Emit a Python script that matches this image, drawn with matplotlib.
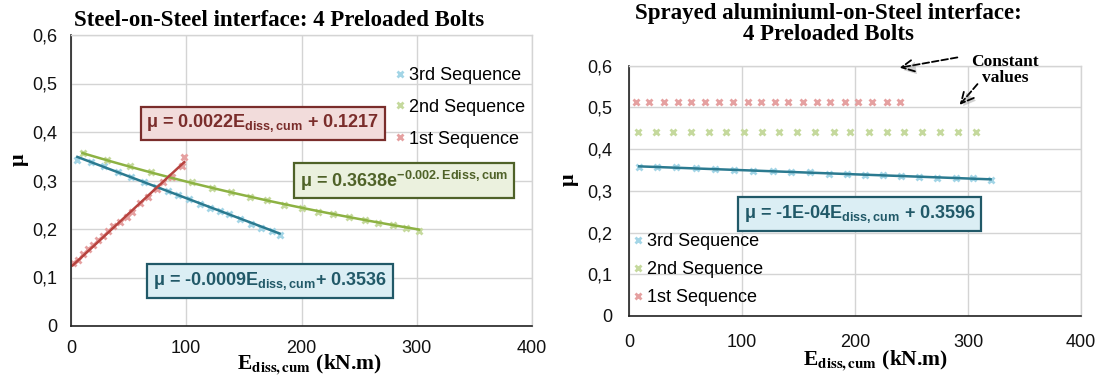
import matplotlib
matplotlib.use('Agg')
import matplotlib.pyplot as plt
import matplotlib.patheffects as pe
from matplotlib.ticker import FixedLocator, FixedFormatter

plt.rcParams['mathtext.fontset'] = 'custom'
plt.rcParams['mathtext.rm'] = 'Liberation Sans'
plt.rcParams['mathtext.bf'] = 'Liberation Sans:bold'

# steel-on-steel, cumulative dissipated energy vs friction coefficient
s3_x = [5.5, 17, 29, 41, 52, 63, 74, 84, 93, 102, 112, 121, 129, 137, 147, 156, 165, 174, 181]
s3_y = [0.343, 0.338, 0.329, 0.318, 0.308, 0.297, 0.287, 0.278, 0.270, 0.261, 0.252, 0.244,
        0.237, 0.230, 0.220, 0.211, 0.203, 0.195, 0.187]
s2_x = [10, 31, 51, 69, 87, 105, 122, 139, 155, 170, 185, 200, 214, 227, 241, 255, 266, 279, 291, 302]
s2_y = [0.357, 0.343, 0.329, 0.318, 0.307, 0.296, 0.284, 0.276, 0.266, 0.259, 0.250, 0.243,
        0.236, 0.230, 0.224, 0.218, 0.213, 0.208, 0.202, 0.196]
s1_x = [1.5, 6.4, 10.7, 15.0, 19.4, 23.7, 28.1, 32.4, 36.7, 42.5, 48.3, 52.7, 59.9, 67.1,
        74.4, 80.1, 87.4, 96.1, 98.3]
s1_y = [0.129, 0.137, 0.148, 0.158, 0.167, 0.177, 0.186, 0.196, 0.206, 0.215, 0.225, 0.236,
        0.253, 0.267, 0.282, 0.296, 0.307, 0.330, 0.348]

# sprayed aluminium-on-steel
a3_x = [9, 25, 42, 59, 76, 93, 110, 127, 143, 160, 177, 193, 209, 225, 241, 257, 273, 289, 304, 320]
a3_y = [0.358, 0.356, 0.356, 0.355, 0.352, 0.350, 0.348, 0.347, 0.344, 0.344, 0.341, 0.341,
        0.339, 0.337, 0.335, 0.334, 0.332, 0.332, 0.330, 0.327]
a2_x = [8, 24, 39, 55, 71, 86, 102, 118, 133, 149, 165, 181, 196, 212, 228, 243, 259, 275, 291, 307]
a2_y = [0.44] * 20
a1_x = [6, 18, 31, 43, 55, 67, 80, 92, 105, 117, 129, 141, 154, 166, 178, 191, 203, 215, 228, 240]
a1_y = [0.514] * 20

# trend line coefficients
lin1 = (0.0022, 0.1217)
exp2 = (0.3638, -0.002)
lin3 = (-0.0009, 0.3536)
alin3 = (-1e-4, 0.3596)

series_names = ['3rd Sequence', '2nd Sequence', '1st Sequence']
yticks = [0, 0.1, 0.2, 0.3, 0.4, 0.5, 0.6]
ytick_labels = ['0', '0,1', '0,2', '0,3', '0,4', '0,5', '0,6']
xticks = [0, 100, 200, 300, 400]
xtick_labels = ['0', '100', '200', '300', '400']

c_mark = {'3': '#a3d5e6', '2': '#c5d99d', '1': '#e5a0a0'}
c_line = {'3': '#2b7a90', '2': '#8db243', '1': '#b7433f'}

fig = plt.figure(figsize=(11.06, 3.78), dpi=100)
W, H = 1106.0, 378.0


def setup(ax, ypad, xpad):
    ax.set_xlim(0, 400)
    ax.set_ylim(0, 0.6)
    ax.xaxis.set_major_locator(FixedLocator(xticks))
    ax.xaxis.set_major_formatter(FixedFormatter(xtick_labels))
    ax.yaxis.set_major_locator(FixedLocator(yticks))
    ax.yaxis.set_major_formatter(FixedFormatter(ytick_labels))
    ax.grid(True, color='#d4d4d4', lw=1.0)
    ax.set_axisbelow(True)
    for s in ['top', 'right']:
        ax.spines[s].set_color('#d4d4d4')
        ax.spines[s].set_linewidth(1.0)
    for s in ['left', 'bottom']:
        ax.spines[s].set_color('#222222')
        ax.spines[s].set_linewidth(1.2)
    ax.tick_params(axis='both', length=0, labelsize=13, labelcolor='#111111')
    ax.tick_params(axis='y', pad=ypad)
    ax.tick_params(axis='x', pad=xpad)
    for lab in ax.get_xticklabels() + ax.get_yticklabels():
        lab.set_family('Liberation Sans')


def markers(ax, x, y, key, label):
    ax.plot(x, y, ls='none', marker='x', ms=4.5, mew=2.0, color=c_mark[key], label=label)


def eq_box(ax, x, y, text, fc, ec):
    ax.text(x, y, text, ha='center', va='center', fontsize=13, fontweight='bold',
            family='Liberation Sans', color=ec, math_fontfamily='custom',
            bbox=dict(boxstyle='square,pad=0.32', fc=fc, ec=ec, lw=1.6))


# ---- left: steel on steel
ax1 = fig.add_axes([71 / W, (H - 326) / H, 461 / W, 291 / H])
setup(ax1, 10, 10)
markers(ax1, s3_x, s3_y, '3', series_names[0])
markers(ax1, s2_x, s2_y, '2', series_names[1])
markers(ax1, s1_x, s1_y, '1', series_names[2])

ax1.plot([s3_x[0], s3_x[-1]], [lin3[0] * s3_x[0] + lin3[1], lin3[0] * s3_x[-1] + lin3[1]],
         color=c_line['3'], lw=1.8)
ex = [s2_x[0] + i * (s2_x[-1] - s2_x[0]) / 60.0 for i in range(61)]
ax1.plot(ex, [exp2[0] * 2.718281828 ** (exp2[1] * v) for v in ex], color=c_line['2'], lw=1.8)
ax1.plot([s1_x[0], s1_x[-1]], [lin1[0] * s1_x[0] + lin1[1], lin1[0] * s1_x[-1] + lin1[1]],
         color=c_line['1'], lw=1.8)

eq_box(ax1, 166.6, 0.4175, r'μ = 0.0022E$_{\mathbf{diss,cum}}$ + 0.1217', '#f2dcdb', '#7a2d2b')
eq_box(ax1, 289, 0.300, r'μ = 0.3638e$^{\mathbf{-0.002.Ediss,cum}}$', '#ebf1de', '#4f6228')
eq_box(ax1, 172.7, 0.0928, r'μ = -0.0009E$_{\mathbf{diss,cum}}$+ 0.3536', '#dbeef4', '#215968')

leg1 = ax1.legend(loc='upper left', bbox_to_anchor=((395 - 71) / 461, (326 - 67) / 291),
                  frameon=False, handlelength=0.5, handletextpad=0.3,
                  borderpad=0, borderaxespad=0, labelspacing=0.82, numpoints=1,
                  prop={'family': 'Liberation Sans', 'size': 13})

fig.text(279 / W, 1 - 20 / H, 'Steel-on-Steel interface: 4 Preloaded Bolts', ha='center',
         va='center', fontsize=16.5, fontweight='bold', family='Liberation Serif')
fig.text(19 / W, 1 - 160 / H, 'μ', rotation=90, ha='center', va='center', fontsize=16,
         fontweight='bold', family='Liberation Serif')
fig.text(310 / W, 1 - 364 / H, r'E$_{\mathbf{diss,cum}}$ (kN.m)', ha='center', va='center',
         fontsize=15.5, fontweight='bold', family='Liberation Serif', math_fontfamily='stix')

# ---- right: sprayed aluminium on steel
ax2 = fig.add_axes([629 / W, (H - 316) / H, 452 / W, 250.3 / H])
setup(ax2, 12, 13)
markers(ax2, a3_x, a3_y, '3', series_names[0])
markers(ax2, a2_x, a2_y, '2', series_names[1])
markers(ax2, a1_x, a1_y, '1', series_names[2])
ax2.plot([a3_x[0], a3_x[-1]], [alin3[0] * a3_x[0] + alin3[1], alin3[0] * a3_x[-1] + alin3[1]],
         color=c_line['3'], lw=1.8)

eq_box(ax2, 204, 0.244, r'μ = -1E-04E$_{\mathbf{diss,cum}}$ + 0.3596', '#dbeef4', '#215968')

leg2 = ax2.legend(loc='upper left', bbox_to_anchor=(4 / 452, (316 - 233) / 250.3),
                  frameon=False, handlelength=0.5, handletextpad=0.3,
                  borderpad=0, borderaxespad=0, labelspacing=0.62, numpoints=1,
                  prop={'family': 'Liberation Sans', 'size': 13})

shadow = [pe.SimplePatchShadow(offset=(1.5, -2), alpha=0.25), pe.Normal()]
ax2.annotate('', xy=(237, 0.594), xytext=(293, 0.621), annotation_clip=False,
             arrowprops=dict(arrowstyle='->,head_length=0.9,head_width=0.45', ls='--', lw=1.3,
                             color='black', path_effects=shadow))
ax2.annotate('', xy=(291, 0.501), xytext=(310, 0.561), annotation_clip=False,
             arrowprops=dict(arrowstyle='->,head_length=0.9,head_width=0.45', ls='--', lw=1.3,
                             color='black', path_effects=shadow))
ax2.text(333, 0.59, 'Constant\nvalues', ha='center', va='center', fontsize=12.5,
         fontweight='bold', family='Liberation Serif', linespacing=1.05)

fig.text(828 / W, 1 - 24 / H, 'Sprayed aluminiuml-on-Steel interface:\n4 Preloaded Bolts',
         ha='center', va='center', fontsize=16.5, fontweight='bold', family='Liberation Serif',
         linespacing=1.0)
fig.text(569 / W, 1 - 180 / H, 'μ', rotation=90, ha='center', va='center', fontsize=16,
         fontweight='bold', family='Liberation Serif')
fig.text(876 / W, 1 - 360 / H, r'E$_{\mathbf{diss,cum}}$ (kN.m)', ha='center', va='center',
         fontsize=15.5, fontweight='bold', family='Liberation Serif', math_fontfamily='stix')

fig.savefig('out.png', dpi=100)
